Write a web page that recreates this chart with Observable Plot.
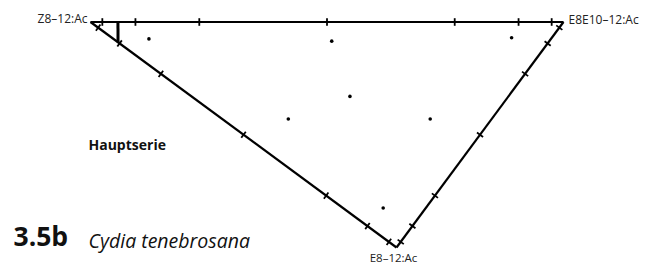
<!DOCTYPE html>
<html><head><meta charset="utf-8">
<script src="https://cdn.jsdelivr.net/npm/d3@7"></script>
<script src="https://cdn.jsdelivr.net/npm/@observablehq/plot@0.6"></script>
<style>html,body{margin:0;padding:0;background:#fff}</style>
</head><body><div id="chart"></div>
<script>
// ---- data ----
const vertexLabels = ["Z8–12:Ac", "E8E10–12:Ac", "E8–12:Ac"];
const tickFractions = [0.025, 0.095, 0.23, 0.5, 0.77, 0.905, 0.975];
// compositions (%) of each point: Z8-12:Ac, E8E10-12:Ac, E8-12:Ac
const compZ     = [85,  46,   8.5, 33.5, 43, 13, 9];
const compE8E10 = [7.5, 45.5, 84.5, 33.5, 14, 44, 8.5];
const compE8    = [7.5, 8.5,  7,   33,   43, 43, 82.5];
// reference marker segment (composition at each end)
const markerFrom = [94.2, 5.8, 0];
const markerTo   = [91, 0, 9];
const seriesLabel = "Hauptserie";
const figureNumber = "3.5b";
const speciesName = "Cydia tenebrosana";

// ---- layout ----
const W = 649, H = 265;
const X_RANGE = [90, 563], Y_RANGE = [247, 21.5];
const APEX_X = 0.647;
const V = [[0, 1], [1, 1], [APEX_X, 0]];
const kx = X_RANGE[1] - X_RANGE[0], ky = Y_RANGE[1] - Y_RANGE[0];
const FONT = "Open Sans";

function project(c) {
  const s = c[0] + c[1] + c[2];
  return [
    (c[0] * V[0][0] + c[1] * V[1][0] + c[2] * V[2][0]) / s,
    (c[0] * V[0][1] + c[1] * V[1][1] + c[2] * V[2][1]) / s
  ];
}

const edgeList = [[0, 1], [0, 2], [1, 2]];
const edges = edgeList.map(([i, j]) => ({x1: V[i][0], y1: V[i][1], x2: V[j][0], y2: V[j][1]}));

const HALF = 3.8;
const ticks = [];
for (const [i, j] of edgeList) {
  const dx = (V[j][0] - V[i][0]) * kx, dy = (V[j][1] - V[i][1]) * ky;
  const len = Math.hypot(dx, dy);
  const nx = -dy / len, ny = dx / len;
  for (const t of tickFractions) {
    const px = V[i][0] + t * (V[j][0] - V[i][0]);
    const py = V[i][1] + t * (V[j][1] - V[i][1]);
    ticks.push({
      x1: px + nx * HALF / kx, y1: py + ny * HALF / ky,
      x2: px - nx * HALF / kx, y2: py - ny * HALF / ky
    });
  }
}

const points = compZ.map((z, k) => {
  const [x, y] = project([z, compE8E10[k], compE8[k]]);
  return {x, y};
});

const [mx1, my1] = project(markerFrom), [mx2, my2] = project(markerTo);
const marker = [{x1: mx1, y1: my1, x2: mx2, y2: my2}];

const vLabels = vertexLabels.map((t, i) => ({t, x: V[i][0], y: V[i][1]}));

const chart = Plot.plot({
  width: W, height: H,
  marginTop: 0, marginRight: 0, marginBottom: 0, marginLeft: 0,
  x: {domain: [0, 1], range: X_RANGE, axis: null},
  y: {domain: [0, 1], range: Y_RANGE, axis: null},
  style: {background: "#fff", fontFamily: FONT},
  marks: [
    Plot.link(edges, {x1: "x1", y1: "y1", x2: "x2", y2: "y2", stroke: "#000", strokeWidth: 2.2}),
    Plot.link(ticks, {x1: "x1", y1: "y1", x2: "x2", y2: "y2", stroke: "#000", strokeWidth: 1.8}),
    Plot.link(marker, {x1: "x1", y1: "y1", x2: "x2", y2: "y2", stroke: "#000", strokeWidth: 3}),
    Plot.dot(points, {x: "x", y: "y", r: 1.8, fill: "#000", stroke: null}),
    Plot.text([vLabels[0]], {x: "x", y: "y", text: "t", textAnchor: "end", lineAnchor: "bottom", dx: -3, dy: 1, fontSize: 12, fill: "#222", fontFamily: FONT}),
    Plot.text([vLabels[1]], {x: "x", y: "y", text: "t", textAnchor: "start", lineAnchor: "bottom", dx: 5, dy: 2, fontSize: 12, fill: "#222", fontFamily: FONT}),
    Plot.text([vLabels[2]], {x: "x", y: "y", text: "t", textAnchor: "middle", lineAnchor: "bottom", dx: -3, dy: 14, fontSize: 11.5, fill: "#222", fontFamily: FONT}),
    Plot.text([seriesLabel], {frameAnchor: "top-left", text: d => d, textAnchor: "start", lineAnchor: "bottom", dx: 88, dy: 149, fontSize: 14, fontWeight: "bold", fill: "#111", fontFamily: FONT}),
    Plot.text([figureNumber], {frameAnchor: "top-left", text: d => d, textAnchor: "start", lineAnchor: "bottom", dx: 13, dy: 245, fontSize: 26.5, fontWeight: "bold", fill: "#111", fontFamily: FONT}),
    Plot.text([speciesName], {frameAnchor: "top-left", text: d => d, textAnchor: "start", lineAnchor: "bottom", dx: 88, dy: 247, fontSize: 19.5, fontStyle: "italic", fill: "#111", fontFamily: FONT})
  ]
});
document.getElementById("chart").appendChild(chart);
</script>
</body></html>
